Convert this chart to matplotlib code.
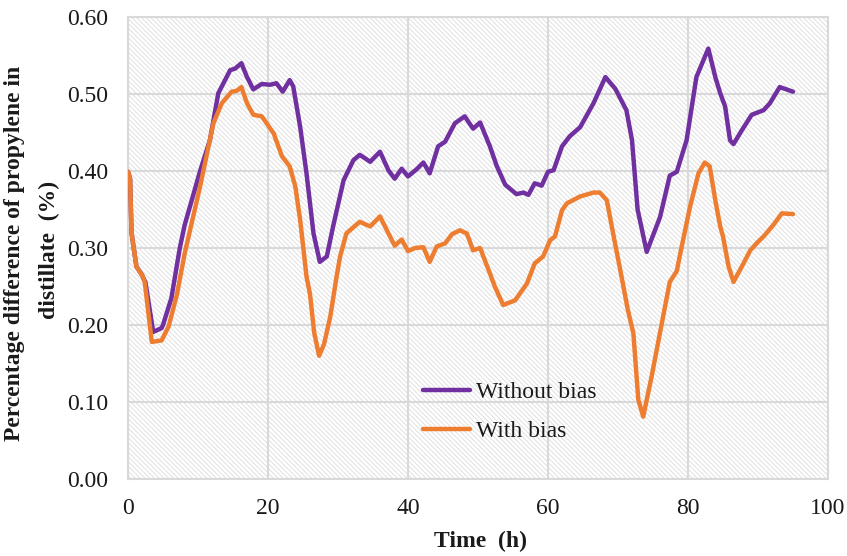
import matplotlib
matplotlib.use("Agg")
import matplotlib.pyplot as plt
from matplotlib.ticker import FormatStrFormatter

# Time (h) and percentage difference of propylene in distillate (%)
time_without = [0, 0.3, 0.5, 1.2, 2.0, 2.5, 3.6, 4.8, 5.0, 6.2, 7.4, 8.1, 10.3, 11.7,
                12.9, 14.6, 15.3, 16.2, 17.0, 17.9, 19.1, 20.3, 21.2, 22.1, 23.1, 23.6,
                24.6, 25.5, 26.5, 27.4, 28.4, 29.3, 30.8, 32.2, 33.1, 34.6, 36.0, 37.2,
                38.1, 39.1, 40.0, 41.2, 42.2, 43.1, 44.3, 45.3, 46.7, 48.1, 49.3, 50.3,
                51.7, 52.7, 53.9, 55.5, 56.5, 57.2, 58.1, 59.1, 60.0, 60.8, 62.0, 63.1,
                64.6, 66.5, 68.2, 69.6, 71.2, 72.0, 72.8, 74.1, 76.0, 77.4, 78.4, 79.8,
                81.2, 82.9, 83.9, 84.6, 85.3, 86.0, 86.5, 87.7, 89.1, 90.8, 91.7, 93.1,
                95.0]
without_bias = [0.399, 0.39, 0.32, 0.276, 0.265, 0.255, 0.191, 0.196, 0.20, 0.235, 0.30,
                0.33, 0.40, 0.44, 0.501, 0.531, 0.533, 0.54, 0.522, 0.506, 0.513, 0.512,
                0.514, 0.503, 0.518, 0.51, 0.457, 0.397, 0.319, 0.282, 0.289, 0.328,
                0.388, 0.414, 0.421, 0.412, 0.425, 0.401, 0.39, 0.403, 0.393, 0.402,
                0.411, 0.397, 0.432, 0.438, 0.462, 0.471, 0.455, 0.463, 0.432, 0.406,
                0.382, 0.37, 0.372, 0.369, 0.384, 0.381, 0.399, 0.401, 0.432, 0.445,
                0.457, 0.488, 0.522, 0.507, 0.479, 0.44, 0.35, 0.295, 0.34, 0.394,
                0.399, 0.44, 0.522, 0.559, 0.522, 0.501, 0.484, 0.44, 0.435, 0.453,
                0.473, 0.479, 0.488, 0.509, 0.503]

time_with = [0, 0.3, 0.5, 1.2, 2.1, 2.4, 3.4, 4.8, 5.8, 7.0, 8.1, 10.3, 12.2, 13.4, 14.8,
             15.5, 16.2, 17.0, 17.9, 19.1, 19.8, 20.8, 22.0, 23.1, 23.9, 24.6, 25.5, 26.0,
             26.6, 27.3, 28.0, 28.9, 29.8, 30.3, 31.2, 33.1, 34.6, 36.0, 37.2, 38.1, 39.1,
             40.0, 41.0, 42.2, 43.1, 44.1, 45.3, 46.3, 47.4, 48.4, 49.3, 50.3, 51.7, 52.4,
             53.6, 55.3, 57.0, 58.1, 59.3, 60.3, 61.0, 62.0, 62.7, 64.6, 66.5, 67.4, 68.4,
             69.3, 70.5, 71.4, 72.2, 72.9, 73.6, 74.8, 76.0, 77.4, 78.4, 78.9, 80.3, 81.5,
             82.4, 83.1, 83.9, 84.6, 85.0, 85.8, 86.5, 87.7, 88.9, 90.0, 90.8, 92.2, 93.4,
             95.0]
with_bias = [0.399, 0.39, 0.32, 0.276, 0.263, 0.255, 0.178, 0.18, 0.198, 0.24, 0.293,
             0.38, 0.462, 0.488, 0.503, 0.504, 0.509, 0.488, 0.473, 0.471, 0.462, 0.449,
             0.419, 0.406, 0.38, 0.336, 0.263, 0.24, 0.19, 0.16, 0.175, 0.211, 0.263,
             0.289, 0.319, 0.334, 0.328, 0.341, 0.319, 0.303, 0.311, 0.296, 0.30, 0.301,
             0.282, 0.302, 0.306, 0.318, 0.323, 0.319, 0.297, 0.30, 0.267, 0.25, 0.226,
             0.232, 0.254, 0.28, 0.289, 0.31, 0.315, 0.349, 0.358, 0.367, 0.372, 0.372,
             0.362, 0.319, 0.263, 0.22, 0.189, 0.103, 0.081, 0.133, 0.19, 0.256, 0.27,
             0.293, 0.354, 0.397, 0.411, 0.406, 0.362, 0.328, 0.315, 0.276, 0.256, 0.276,
             0.297, 0.308, 0.315, 0.33, 0.345, 0.344]

x_ticks = [0, 20, 40, 60, 80, 100]
y_ticks = [0.0, 0.1, 0.2, 0.3, 0.4, 0.5, 0.6]

PURPLE = "#7030A0"
ORANGE = "#ED7D31"
GRID = "#d9d9d9"
TEXT = "#1a1a1a"

plt.rcParams["font.family"] = ["Liberation Serif", "DejaVu Serif"]
plt.rcParams["hatch.linewidth"] = 0.6

fig = plt.figure(figsize=(8.47, 5.56), dpi=100)
ax = fig.add_axes([128 / 847, 77 / 556, 700 / 847, 462 / 556])

# Finely hatched plot background
ax.patch.set_facecolor("white")
ax.patch.set_hatch("\\" * 7)
ax.patch.set_edgecolor("#dcdcdc")
ax.patch.set_linewidth(0)

ax.plot(time_without, without_bias, color=PURPLE, lw=3.2, label="Without bias",
        solid_joinstyle="round", solid_capstyle="round", zorder=3)
ax.plot(time_with, with_bias, color=ORANGE, lw=3.2, label="With bias",
        solid_joinstyle="round", solid_capstyle="round", zorder=4)

ax.set_xlim(0, 100)
ax.set_ylim(0, 0.6)
ax.set_xticks(x_ticks)
ax.set_yticks(y_ticks)
ax.yaxis.set_major_formatter(FormatStrFormatter("%.2f"))
ax.tick_params(axis="both", length=0, labelsize=17, colors=TEXT)
ax.tick_params(axis="x", pad=14)
ax.tick_params(axis="y", pad=14)

ax.grid(True, color=GRID, lw=1.5, zorder=1)
ax.set_axisbelow(True)
for s in ax.spines.values():
    s.set_color(GRID)
    s.set_linewidth(1.5)

leg = ax.legend(loc="center left", bbox_to_anchor=(0.421, 0.145), frameon=False,
                fontsize=17, handlelength=2.0, handletextpad=0.25, labelspacing=0.75,
                borderpad=0, borderaxespad=0)
for t in leg.get_texts():
    t.set_color(TEXT)

# Axis titles
fig.text(480 / 847, 1 - 541 / 556, "Time  (h)", ha="center", va="center",
         fontsize=17, fontweight="bold", color=TEXT)
fig.text(15 / 847, 1 - 253 / 556, "Percentage difference of propylene in",
         rotation=90, ha="center", va="center", fontsize=17, fontweight="bold", color=TEXT)
fig.text(49 / 847, 1 - 250 / 556, "distillate  (%)",
         rotation=90, ha="center", va="center", fontsize=17, fontweight="bold", color=TEXT)

fig.savefig("out.png", dpi=100)
